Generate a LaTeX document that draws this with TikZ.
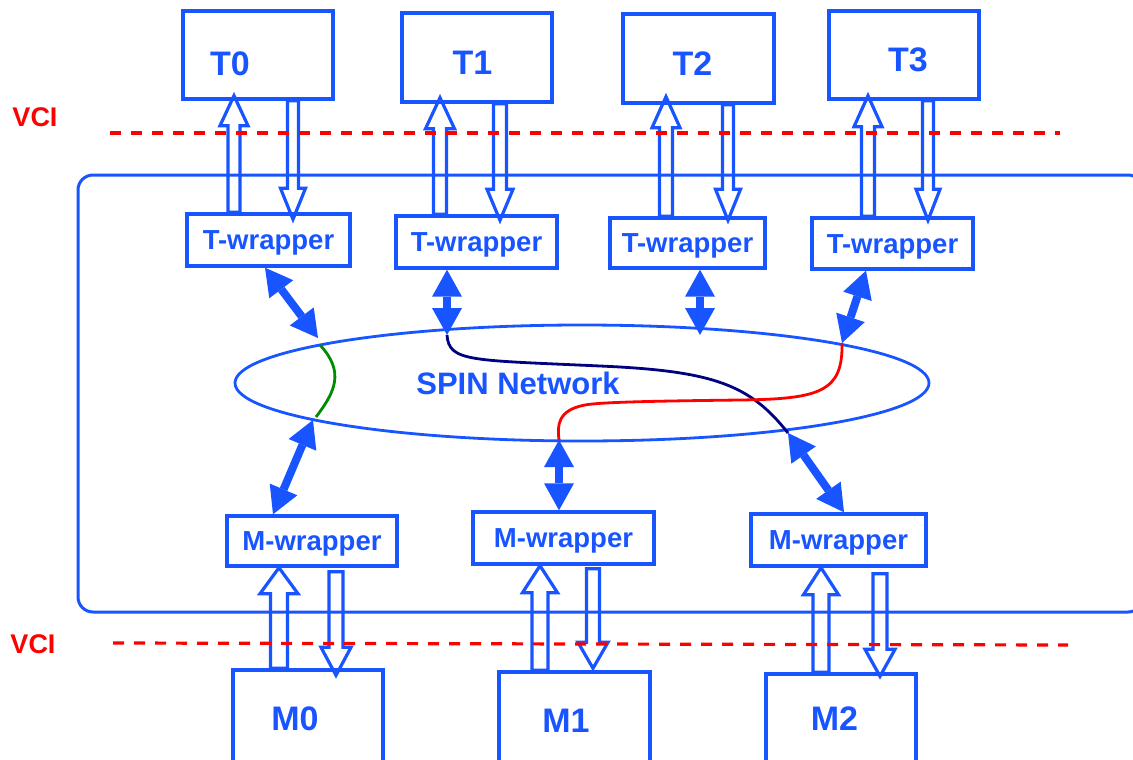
\documentclass[tikz,border=0pt]{standalone}
\usepackage{fontspec}
\setmainfont{Liberation Sans}
\usetikzlibrary{shapes.geometric,arrows.meta,calc}

\definecolor{spinblue}{RGB}{24,84,255}
\definecolor{vcired}{RGB}{255,0,0}
\definecolor{pathgreen}{RGB}{0,140,0}
\definecolor{pathnavy}{RGB}{0,0,128}

% Hollow block arrow pointing up.
% #1 x, #2 tail anchor (below), #3 tip anchor (above), #4 half shaft, #5 half head, #6 head length
\newcommand\hollowup[6]{%
  \draw[hollow] let \p1=(#2), \p2=(#3) in
    (#1pt-#4pt,\y1) -- (#1pt-#4pt,\y2-#6pt) -- (#1pt-#5pt,\y2-#6pt) -- (#1pt,\y2)
    -- (#1pt+#5pt,\y2-#6pt) -- (#1pt+#4pt,\y2-#6pt) -- (#1pt+#4pt,\y1) -- cycle;}
% Hollow block arrow pointing down: #2 tail anchor (above), #3 tip anchor (below)
\newcommand\hollowdown[6]{%
  \draw[hollow] let \p1=(#2), \p2=(#3) in
    (#1pt-#4pt,\y1) -- (#1pt-#4pt,\y2+#6pt) -- (#1pt-#5pt,\y2+#6pt) -- (#1pt,\y2)
    -- (#1pt+#5pt,\y2+#6pt) -- (#1pt+#4pt,\y2+#6pt) -- (#1pt+#4pt,\y1) -- cycle;}

\begin{document}
\begin{tikzpicture}[x=1pt,y=-1pt,
  box/.style={draw=spinblue, line width=3.4pt, rectangle, inner sep=0pt},
  wrap/.style={box, font=\bfseries\fontsize{27.5}{27.5}\selectfont, text=spinblue,
    text height=19.7pt, text depth=0pt},
  lbl/.style={font=\bfseries\fontsize{34}{34}\selectfont, text=spinblue, inner sep=0pt,
    text height=24.3pt, text depth=0pt},
  vci/.style={font=\bfseries\fontsize{27}{27}\selectfont, text=vcired, inner sep=0pt,
    text height=19.3pt, text depth=0pt},
  hollow/.style={draw=spinblue, line width=3.2pt, line join=miter},
  dbl/.style={draw=spinblue, line width=8pt,
    {Triangle[length=27pt,width=30pt,line width=0pt]}-{Triangle[length=27pt,width=30pt,line width=0pt]}},
  frame/.style={draw=spinblue, line width=3pt, rounded corners=15pt},
  vciline/.style={draw=vcired, line width=3.2pt, dash pattern=on 11pt off 10pt},
  route/.style={line width=2.8pt}]

\useasboundingbox (0,0) rectangle (1133,760);
\clip (0,0) rectangle (1133,760);

% network boundary
\draw[frame] (78,175) rectangle (1143,612);

% targets
\node[box, minimum width=150pt, minimum height=88pt] (T0) at (258,55) {};
\node[box, minimum width=150pt, minimum height=89pt] (T1) at (477,57.5) {};
\node[box, minimum width=151pt, minimum height=89pt] (T2) at (698.5,58.5) {};
\node[box, minimum width=150pt, minimum height=88pt] (T3) at (904,55) {};
\node[lbl] (T0l) at (230,63.5) {T0};
\node[lbl] (T1l) at (472.5,62) {T1};
\node[lbl] (T2l) at (692.5,63.5) {T2};
\node[lbl] (T3l) at (908,59.5) {T3};

% masters
\node[box, minimum width=150pt, minimum height=130pt] (M0) at (308,735) {};
\node[box, minimum width=151pt, minimum height=130pt] (M1) at (574.5,737) {};
\node[box, minimum width=150pt, minimum height=130pt] (M2) at (841,739) {};
\node[lbl] (M0l) at (295,718) {M0};
\node[lbl] (M1l) at (566,720) {M1};
\node[lbl] (M2l) at (834.5,718.5) {M2};

% wrappers
\node[wrap, minimum width=163pt, minimum height=52pt] (TW0) at (268.5,240) {T-wrapper};
\node[wrap, minimum width=161pt, minimum height=52pt] (TW1) at (476.5,242) {T-wrapper};
\node[wrap, minimum width=155pt, minimum height=50pt] (TW2) at (687.5,243) {T-wrapper};
\node[wrap, minimum width=161pt, minimum height=51pt] (TW3) at (892.5,243.5) {T-wrapper};
\node[wrap, minimum width=170pt, minimum height=50pt] (MW0) at (312,541) {M-wrapper};
\node[wrap, minimum width=181pt, minimum height=52pt] (MW1) at (563.5,538) {M-wrapper};
\node[wrap, minimum width=175pt, minimum height=52pt] (MW2) at (838.5,540) {M-wrapper};

% SPIN network
\node[draw=spinblue, line width=2.8pt, ellipse, inner sep=0pt,
      minimum width=694pt, minimum height=116pt] (net) at (582,383) {};
\node[font=\bfseries\fontsize{31}{31}\selectfont, text=spinblue, inner sep=0pt,
      text height=22.2pt, text depth=0pt] (netl) at (518,383) {SPIN Network};

% ports on the network border
\coordinate (a1) at (318,338);
\coordinate (b1) at (313,420);
\coordinate (c1) at (447,335);
\coordinate (d1) at (700,335);
\coordinate (e1) at (842,343);
\coordinate (f1) at (788,433);
\coordinate (g1) at (559,440);
\coordinate (gA) at (320,345);
\coordinate (gB) at (316,417);

% routes through the network
\draw[route, draw=pathgreen] (gA) .. controls (345,372) and (335,392) .. (gB);
\draw[route, draw=pathnavy] (c1) .. controls (449,362) and (470,360) .. (600,366)
  .. controls (715,371) and (750,385) .. (f1);
\draw[route, draw=vcired] (e1) .. controls (843,392) and (820,399) .. (740,400)
  .. controls (660,401) and (600,402) .. (585,405)
  .. controls (558,410) and (557,425) .. (g1);

% wrapper <-> network links
\draw[dbl] (265,0 |- TW0.south) -- (a1);
\draw[dbl] (b1) -- (273,0 |- MW0.north);
\draw[dbl] (447,0 |- TW1.south) -- (c1);
\draw[dbl] (700,0 |- TW2.south) -- (d1);
\draw[dbl] (866,0 |- TW3.south) -- (e1);
\draw[dbl] (f1) -- (844,0 |- MW2.north);
\draw[dbl] (g1) -- (559,0 |- MW1.north);

% VCI links, targets side
\hollowup{234}{TW0.north}{[yshift=5pt]T0.south}{6}{14}{30}
\hollowup{440}{TW1.north}{[yshift=6pt]T1.south}{6.5}{14.5}{31}
\hollowup{666}{TW2.north}{[yshift=8pt]T2.south}{6.5}{14}{31}
\hollowup{868}{TW3.north}{[yshift=5pt]T3.south}{6.5}{14}{31}
\hollowdown{293}{T0.south}{[yshift=-7pt]TW0.north}{5.5}{12.5}{31}
\hollowdown{500}{T1.south}{[yshift=-6pt]TW1.north}{6.5}{13}{31}
\hollowdown{728}{T2.south}{[yshift=-4pt]TW2.north}{5.5}{12.5}{31}
\hollowdown{928}{T3.south}{[yshift=-4pt]TW3.north}{5.5}{12}{31}

% VCI links, masters side
\hollowup{279}{M0.north}{MW0.south}{8.5}{19}{26}
\hollowup{540}{M1.north}{MW1.south}{8}{17.5}{27}
\hollowup{821}{M2.north}{MW2.south}{8}{17.5}{27}
\hollowdown{336}{[yshift=-4pt]MW0.south}{[yshift=-7pt]M0.north}{7}{15}{28}
\hollowdown{593}{[yshift=-3pt]MW1.south}{[yshift=2pt]M1.north}{6.5}{15}{26}
\hollowdown{880}{[yshift=-6pt]MW2.south}{[yshift=-4pt]M2.north}{7}{15}{27}

% VCI boundaries
\draw[vciline] (110,133) -- (1060,133);
\draw[vciline] (113,643) -- (1068,645);
\node[vci] (vciT) at (35,117) {VCI};
\node[vci] (vciB) at (33,644) {VCI};

\end{tikzpicture}
\end{document}
